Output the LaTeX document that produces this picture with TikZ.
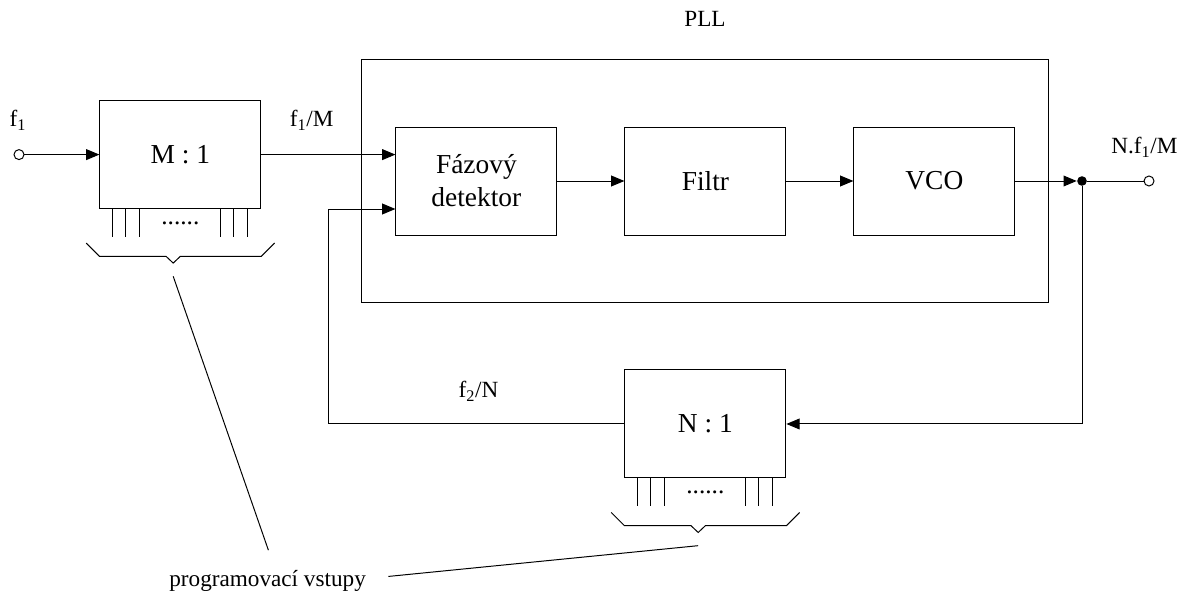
\documentclass[tikz,border=0pt]{standalone}
\usepackage{fontspec}
\setmainfont{Liberation Serif}
\usetikzlibrary{arrows.meta, positioning, calc, fit}
\tikzset{
  every picture/.style={line width=0.7pt},
  blk/.style={draw, align=center, inner sep=0pt, minimum width=4.025cm, minimum height=2.7cm, font=\fontsize{19.5}{23.5}\selectfont},
  arrow/.style={-{Triangle[length=0.33cm, width=0.27cm]}},
  lbl/.style={font=\fontsize{16.5}{19}\selectfont, inner sep=0pt, anchor=base},
  port/.style={circle, draw, fill=white, inner sep=0pt, minimum size=0.25cm},
  dot/.style={circle, fill, inner sep=0pt, minimum size=0.24cm},
  pindots/.style={font=\fontsize{18}{20}\selectfont, inner sep=0pt},
}

\begin{document}
\begin{tikzpicture}[node distance=1.675cm]
  \useasboundingbox (0,0) rectangle (29.7,14.775);
  % dividers and PLL blocks
  \node[blk] (mdiv) at (4.51, 10.91) {M : 1};
  \node[blk] (det) at (11.91, 10.25) {Fázový\\detektor};
  \node[blk, right=of det] (filtr) {Filtr};
  \node[blk, right=of filtr] (vco) {VCO};
  \node[blk, below=3.35cm of filtr] (ndiv) {N : 1};
  \node[draw, fit=(det)(vco), inner xsep=0.84cm, inner ysep=1.675cm] (pll) {};
  % ports and labels
  \node[port] (in) at (0.475, 10.91) {};
  \node[dot] (jn) at (27.05, 10.25) {};
  \node[port] (out) at (28.725, 10.25) {};
  \node[lbl] (plltxt) at (17.625, 14.1) {PLL};
  \node[lbl] (f1txt) at (0.45, 11.6) {f\textsubscript{1}};
  \node[lbl] (f1mtxt) at (7.79, 11.6) {f\textsubscript{1}/M};
  \node[lbl] (nftxt) at (28.61, 10.925) {N.f\textsubscript{1}/M};
  \node[lbl] (f2txt) at (11.96, 4.825) {f\textsubscript{2}/N};
  \node[lbl] (prog) at (6.69, 0.125) {programovací vstupy};
  % connectors
  \draw[arrow] (in) -- (mdiv);
  \draw[arrow] (mdiv.east) -- (mdiv.east -| det.west);
  \draw[arrow] (det) -- (filtr);
  \draw[arrow] (filtr) -- (vco);
  \draw[arrow] (vco) -- (jn);
  \draw (jn) -- (out);
  \draw[arrow] (jn) |- (ndiv);
  \coordinate (fb) at (8.21, 9.55);
  \draw[arrow] (ndiv) -| (fb) -- (fb -| det.west);
  % programming inputs
  \foreach \b in {mdiv, ndiv} {
    \foreach \p in {0.33, 0.66, 0.99, 3.03, 3.36, 3.69}
      \draw ($(\b.south west)+(\p,0)$) -- ++(0,-0.7);
    \node[pindots] at ($(\b.south)+(0,-0.35)$) {......};
    \coordinate (\b-tip) at ($(\b.south)+(-0.18,-1.35)$);
    \draw ($(\b.south west)+(-0.33,-0.85)$) -- ++(0.33,-0.33) -- ($(\b.south)+(-0.36,-1.18)$) -- (\b-tip)
      -- ($(\b.south)+(0,-1.18)$) -- ($(\b.south east)+(0,-1.18)$) -- ++(0.33,0.33);
  }
  \draw ($(prog.north)+(0.02,0.48)$) -- ($(mdiv-tip)+(0,-0.33)$);
  \draw ($(prog.east)+(0.55,0.1)$) -- ($(ndiv-tip)+(0,-0.33)$);
\end{tikzpicture}
\end{document}
